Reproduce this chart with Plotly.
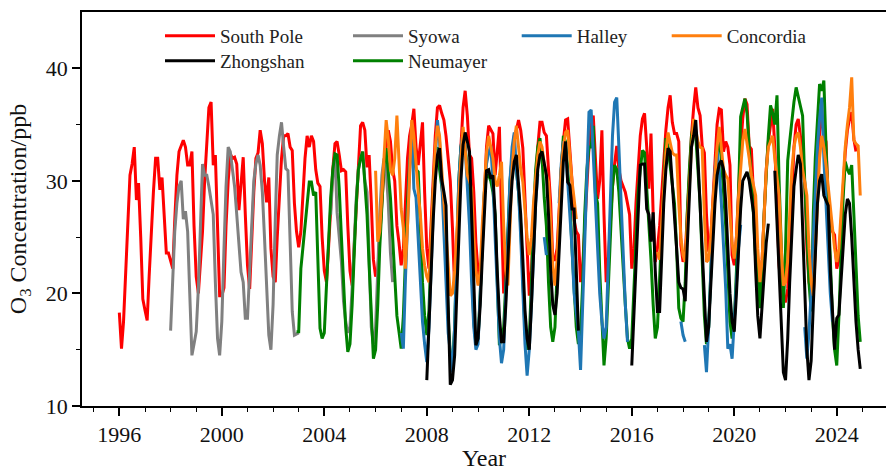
import plotly.graph_objects as go
import pandas as pd

N = None

# ---------------- data (monthly means, ppb) ----------------
south_pole_start = "1996-01-01"
south_pole = [
    18.3, 15.1, 17.5, 22.0, 26.5, 30.5, 31.5, 33.0, 28.3, 29.8, 25.0, 19.5,  # 1996
    18.5, 17.6, 21.5, 26.0, 29.0, 32.0, 32.0, 29.2, 30.3, 27.0, 23.6, 23.6,  # 1997
    23.0, 22.2, 26.5, 30.5, 32.6, 33.2, 33.6, 33.0, 31.4, 31.4, 32.6, 26.0,  # 1998
    21.5, 20.0, 22.5, 25.5, 30.0, 34.0, 36.5, 37.0, 31.4, 32.3, 25.0, 19.8,  # 1999
    19.8, 20.5, 26.0, 30.0, 32.4, 32.0, 32.1, 31.5, 27.4, 29.5, 32.1, 27.0,  # 2000
    22.5, 20.4, 25.0, 29.0, 32.0, 32.5, 34.5, 33.3, 30.0, 28.1, 30.3, 24.0,  # 2001
    21.5, 21.0, 25.0, 29.0, 32.0, 34.0, 34.0, 34.2, 33.0, 32.7, 28.0, 25.5,  # 2002
    24.1, 25.5, 29.0, 32.0, 34.0, 33.0, 34.0, 33.5, 31.0, 29.8, 29.5, 25.0,  # 2003
    22.0, 21.0, 24.0, 28.0, 31.0, 33.3, 33.5, 32.3, 30.9, 31.0, 30.8, 26.0,  # 2004
    22.0, 20.7, 24.0, 28.0, 31.0, 34.9, 35.2, 34.5, 31.2, 32.3, 28.0, 23.0,  # 2005
    21.5, 22.0, 25.0, 28.5, 31.0, 33.0, 34.5, 33.5, 31.0, 30.0, 26.0, 24.5,  # 2006
    22.5, 24.0, 28.0, 32.0, 34.0, 35.0, 36.4, 33.0, 31.4, 33.0, 35.2, 29.0,  # 2007
    24.0, 22.2, 26.0, 30.0, 34.0, 36.5, 36.7, 36.0, 35.4, 34.0, 32.1, 30.0,  # 2008
    25.8, 20.5, 22.5, 27.0, 33.0, 36.5, 38.0, 35.8, 32.3, 32.0, 29.0, 24.5,  # 2009
    22.0, 20.7, 24.0, 29.0, 33.0, 34.9, 34.5, 34.2, 30.5, 33.0, 34.8, 27.0,  # 2010
    20.0, 21.5, 25.0, 29.0, 32.0, 34.0, 34.5, 35.4, 34.5, 32.9, 29.0, 24.0,  # 2011
    19.8, 22.0, 26.0, 30.0, 33.0, 35.2, 35.2, 34.3, 34.0, 31.0, 28.0, 23.0,  # 2012
    23.0, 24.0, 27.5, 31.0, 33.5, 35.4, 35.5, 33.0, 30.0, 26.5, 25.5, 25.2,  # 2013
    21.0, 22.5, 26.0, 30.0, 33.0, 35.0, 35.8, 32.0, 28.4, 30.0, 34.5, 27.0,  # 2014
    21.0, 23.0, 26.0, 29.5, 31.5, 33.1, 31.0, 30.0, 29.5, 29.0, 28.0, 27.0,  # 2015
    22.2, 24.0, 28.0, 31.0, 34.0, 35.5, 36.0, 33.0, 29.3, 34.2, 27.0, 22.8,  # 2016
    24.0, 26.0, 29.0, 32.0, 34.5, 36.5, 37.6, 35.2, 34.2, 34.2, 33.5, 24.3,  # 2017
    22.8, 23.5, 27.0, 31.0, 34.0, 36.5, 38.3, 36.5, 35.8, 33.1, 32.5, 27.0,  # 2018
    23.7, 25.0, 28.5, 32.0, 35.0, 36.4, 36.3, 32.6, 33.5, 33.0, 31.4, 23.4,  # 2019
    22.5, 25.0, 29.0, 33.0, 35.5, 37.3, 36.8, 33.1, 32.8, 28.0, 24.5, 22.0,  # 2020
    20.4, 23.0, 27.0, 31.0, 33.5, 35.0, 36.4, 33.0, 27.0, 22.5, 20.4, 19.3,  # 2021
    19.3, 20.4, 24.0, 29.0, 33.0, 35.0, 35.5, 34.0, 32.6, 29.9, 24.0, 21.0,  # 2022
    20.0, 19.8, 25.0, 30.0, 34.2, 36.3, 34.0, 33.5, 28.0, 26.5, 25.5, 25.2,  # 2023
    22.2, 23.0, 26.0, 29.5, 32.5, 34.5, 35.5, 36.1, 33.7, 32.6,              # 2024
]

syowa_start = "1998-01-01"
syowa = [
    16.7, 22.1, 25.5, 28.0, 29.5, 30.0, 26.6, 27.3, 25.5, 20.0, 14.5, 15.5,  # 1998
    16.6, 20.5, 26.0, 31.5, 30.5, 30.5, 29.5, 28.0, 27.0, 21.0, 16.0, 14.5,  # 1999
    17.5, 24.0, 29.5, 33.0, 32.6, 31.0, 29.5, 27.0, 24.5, 21.9, 21.0, 17.8,  # 2000
    17.8, 22.0, 27.0, 30.0, 31.5, 32.3, 31.4, 29.0, 24.9, 20.5, 16.3, 15.0,  # 2001
    19.0, 26.5, 32.3, 34.0, 35.2, 33.0, 31.1, 30.9, 25.0, 18.4, 16.3, 16.4,  # 2002
    16.5, N, N, N, N, N, N, N, N, N, N, N,                                   # 2003
    N, N, N, 27.0, 30.5, 32.3, 27.2, 25.0, 22.8, 19.3, 17.5, 16.5,          # 2004
    17.0, 20.5, 25.0, 28.5, 31.0, 32.0, 32.6, 30.0, 29.0, 22.0, 17.0, 15.5,  # 2005
    17.0, 22.0, 27.0, 30.5, 32.0, 31.0, 28.0, 23.6, 21.0,                    # 2006
]

neumayer_start = "2002-12-01"
neumayer = [
    16.6,                                                                    # 2002
    16.6, 22.2, 24.0, 25.8, 28.0, 29.9, 29.9, 28.7, 29.0, 23.0, 16.9, 16.0,  # 2003
    16.5, 20.7, 25.0, 28.5, 31.0, 32.4, 32.3, 29.3, 25.0, 21.0, 17.0, 14.8,  # 2004
    15.5, 19.0, 23.5, 28.0, 31.0, 32.0, 32.6, 30.0, 27.0, 22.5, 17.5, 14.2,  # 2005
    15.0, 19.0, 24.0, 28.5, 31.5, 32.9, 31.0, 28.5, 25.0, 21.5, 18.0, 16.6,  # 2006
    15.1, 18.0, 23.0, 28.0, 31.5, 33.0, 32.0, 31.0, 30.8, 26.0, 21.0, 18.0,  # 2007
    16.3, 18.5, 24.0, 29.0, 32.0, 33.0, 31.0, 29.5, 28.0, 24.0, 18.0, 14.5,  # 2008
    13.5, 17.0, 24.0, 30.0, 33.0, 34.0, 33.0, 31.0, 28.0, 23.0, 17.5, 15.5,  # 2009
    16.0, 20.0, 25.0, 29.0, 30.5, 30.5, 30.0, 29.0, 27.0, 22.0, 15.4, 16.0,  # 2010
    17.0, 21.0, 26.0, 30.0, 32.0, 32.0, 31.0, 29.0, 26.0, 21.0, 16.5, 15.0,  # 2011
    16.0, 21.0, 27.0, 31.0, 33.0, 33.8, 32.0, 28.5, 26.0, 21.0, 17.0, 15.7,  # 2012
    17.0, 22.0, 27.0, 31.0, 34.0, 33.5, 31.0, 28.5, 24.0, 20.0, 17.0, 15.5,  # 2013
    16.5, 21.0, 27.0, 31.0, 33.0, 33.0, 34.9, 28.9, 28.0, 22.0, 17.0, 13.6,  # 2014
    16.0, 21.0, 26.0, 29.5, 31.4, 31.0, 29.0, 25.2, 22.0, 19.0, 16.0, 15.1,  # 2015
    16.0, 20.0, 25.0, 29.0, 31.0, 32.7, 32.5, 29.3, 27.0, 23.0, 19.0, 16.0,  # 2016
    17.0, 21.0, 26.0, 30.0, 33.8, 33.0, 31.5, 30.0, 28.0, 24.0, 18.7, 17.8,  # 2017
    17.5, 21.0, 27.0, 31.0, 34.0, 35.0, 34.0, 31.0, 28.0, 23.0, 18.0, 15.5,  # 2018
    17.0, 22.0, 27.0, 30.0, 32.5, 33.5, 32.0, 29.0, 26.0, 22.0, 17.5, 16.0,  # 2019
    17.5, 22.0, 30.0, 35.7, 36.5, 37.3, 36.0, 33.0, 30.0, 27.0, 23.0, 22.2,  # 2020
    18.7, 22.0, 27.0, 31.0, 34.0, 36.7, 36.0, 35.0, 37.6, 30.0, 24.0, 18.7,  # 2021
    24.0, 31.8, 33.5, 35.5, 37.0, 38.3, 37.5, 36.5, 35.8, 30.0, 24.5, 21.0,  # 2022
    18.4, 27.2, 32.0, 35.5, 38.6, 38.0, 38.9, 33.0, 28.0, 23.0, 18.0, 15.0,  # 2023
    13.6, 18.0, 24.0, 28.5, 31.7, 31.0, 30.6, 31.4, 27.0, 22.0, 18.0, 15.7,  # 2024
]

halley_start = "2007-01-01"
halley = [
    16.5, 15.1, 21.0, 27.0, 31.0, 34.9, 29.3, 28.5, 25.0, 20.4, 17.5, 15.5,  # 2007
    13.9, 17.0, 22.0, 28.0, 32.0, 35.4, 33.5, 30.0, 26.0, 21.0, 16.5, 14.5,  # 2008
    13.0, 17.0, 24.0, 30.0, 33.0, 34.3, 33.0, 29.3, 26.0, 21.0, 17.0, 15.0,  # 2009
    15.5, 20.0, 25.0, 29.0, 31.5, 32.5, 33.1, 30.0, 25.0, 20.0, 16.0, 13.8,  # 2010
    15.0, 20.0, 25.0, 30.0, 33.0, 34.3, 31.0, 29.0, 25.0, 20.0, 15.5, 12.7,  # 2011
    15.0, 19.0, 24.0, 28.0, 30.6, N, N, 25.0, 23.4, N, N, N,                 # 2012
    N, N, 28.0, 31.5, 33.5, 33.0, 30.0, 27.0, 24.0, 20.0, 18.0, 16.6,        # 2013
    13.2, 19.0, 26.0, 31.0, 36.1, 36.3, 32.0, 28.0, 24.0, 20.0, 17.5, 16.0,  # 2014
    17.0, 23.0, 30.0, 34.0, 37.0, 37.4, 33.0, 28.0, 23.0, 19.0, 15.7, N,     # 2015
    N, N, N, N, N, N, N, N, N, N, N, N,                                      # 2016
    N, N, N, N, N, N, N, N, N, N, N, 17.5,                                   # 2017
    16.3, 15.7, N, N, N, N, N, N, N, N, 15.4, 13.0,                          # 2018
    17.0, 22.0, 27.0, 31.0, 32.7, 31.0, 28.0, 24.0, 20.4, 15.1, 15.5, 14.2,  # 2019
    17.5, 21.0, 24.0, 26.1, N, N, N, N, N, N, N, N,                          # 2020
    N, N, N, N, N, N, N, N, N, N, N, N,                                      # 2021
    N, N, N, N, N, N, N, N, N, 17.0, 14.2, 16.5,                             # 2022
    20.0, 25.0, 29.0, 33.0, 35.5, 37.4, 32.0, 28.0, 24.0, 20.0, 17.5,        # 2023
]

concordia_start = "2006-01-01"
concordia = [
    30.9, 24.6, 25.5, 29.0, 32.5, 35.4, 33.7, 31.0, 30.5, 32.0, 35.8, 31.0,  # 2006
    27.5, 25.8, 22.2, 26.0, 31.0, 35.4, 34.0, 31.0, 29.0, 27.0, 24.0, 22.5,  # 2007
    21.5, 21.0, 25.0, 30.0, 33.0, 34.9, 34.0, 31.0, 28.0, 25.0, 22.0, 19.8,  # 2008
    20.0, 22.0, 25.0, 29.0, 32.0, 34.8, 32.5, 30.5, 30.0, 29.3, 25.0, 22.0,  # 2009
    20.7, 22.0, 26.0, 30.0, 32.5, 34.0, 33.0, 32.0, 30.0, 29.5, 30.5, 31.7,  # 2010
    26.0, 22.0, 20.7, 26.0, 31.0, 33.5, 34.9, 33.0, 31.0, 29.9, 27.0, 25.0,  # 2011
    23.4, 25.0, 28.0, 30.0, 32.3, 33.5, 33.0, 31.5, 30.5, 29.9, 25.5, 22.5,  # 2012
    20.7, 23.0, 27.0, 31.0, 33.0, 34.3, 34.5, 32.0, 30.0, 28.4, 26.6, N,     # 2013
    N, N, N, N, N, N, N, N, N, N, N, N,                                      # 2014
    N, N, N, N, N, N, N, N, N, N, N, N,                                      # 2015
    N, N, N, N, N, N, N, N, N, N, N, N,                                      # 2016
    23.7, 23.0, 26.0, 29.5, 32.5, 34.3, 33.5, 32.5, 32.3, 32.3, 28.0, 25.0,  # 2017
    23.4, 22.8, 26.0, 30.0, 33.0, 35.5, 34.5, 33.5, 33.0, 32.9, 27.0, 22.8,  # 2018
    23.0, 25.0, 28.0, 31.0, 33.0, 34.8, 33.0, 31.0, 30.5, 30.2, 27.0, 24.5,  # 2019
    23.1, 25.0, 28.5, 31.5, 33.5, 34.6, 33.5, 32.0, 30.5, 29.5, 28.7, 24.0,  # 2020
    21.0, 23.0, 27.0, 31.0, 33.0, 33.5, 34.0, 32.0, 30.0, 28.7, 24.0, 20.7,  # 2021
    21.0, 23.0, 27.0, 31.0, 33.0, 34.0, 34.3, 33.0, 31.0, 30.0, 28.7, 24.0,  # 2022
    21.0, 19.8, 24.0, 29.0, 32.0, 34.0, 33.0, 31.4, 29.5, 27.5, 25.5, 24.0,  # 2023
    22.8, 24.0, 27.0, 30.5, 33.0, 35.0, 36.5, 39.2, 33.6, 33.3, 33.1, 28.7,  # 2024
]

zhongshan_start = "2008-01-01"
zhongshan = [
    12.3, 17.5, 22.0, 26.5, 30.0, 32.3, 32.9, 30.1, 29.0, 27.8, 19.0, 11.9,  # 2008
    12.3, 14.5, 19.5, 25.0, 30.0, 33.2, 34.3, 33.5, 32.6, 27.0, 21.0, 15.4,  # 2009
    16.0, 19.0, 23.0, 27.0, 30.9, 31.0, 30.2, 30.5, 27.0, 22.0, 18.0, 15.7,  # 2010
    15.7, 19.0, 23.0, 27.0, 30.0, 31.7, 32.3, 30.0, 27.0, 23.0, 18.5, 16.0,  # 2011
    15.0, 19.0, 24.0, 28.0, 31.0, 32.3, 32.6, 31.5, 30.5, 27.0, 22.0, 19.0,  # 2012
    18.1, 20.0, 24.0, 28.0, 31.7, 33.5, 29.9, 29.6, 27.5, 27.5, 22.0, 16.7,  # 2013
    N, N, N, N, N, N, N, N, N, N, N, N,                                      # 2014
    N, N, N, N, N, N, N, N, N, N, N, N,                                      # 2015
    13.6, 18.0, 23.5, 28.0, 31.4, 31.5, 31.5, 27.5, 27.0, 24.6, 27.2, 22.0,  # 2016
    18.4, 18.4, 23.0, 28.0, 31.0, 32.9, 32.6, 30.0, 27.0, 24.0, 21.0, 20.5,  # 2017
    20.4, 19.3, 24.0, 29.0, 33.0, 34.0, 35.4, 32.0, 27.8, 23.0, 19.0, 15.7,  # 2018
    17.0, 21.0, 25.0, 28.0, 30.5, 31.5, 31.8, 31.0, 28.1, 24.0, 20.0, 17.5,  # 2019
    16.6, 20.0, 24.0, 27.5, 30.0, 30.5, 30.8, 30.0, 28.5, 27.2, 22.0, 18.0,  # 2020
    16.0, 19.0, 22.0, 24.5, 26.2, N, N, 30.9, 26.0, 21.0, 16.5, 13.0,        # 2021
    12.3, 16.0, 21.0, 26.0, 29.5, 31.0, 32.3, 31.5, 26.0, 20.0, 15.0, 12.3,  # 2022
    14.0, 19.0, 24.0, 28.0, 30.0, 30.6, 28.7, 28.3, 27.8, 22.0, 18.0, 15.0,  # 2023
    17.8, 18.1, 21.0, 24.5, 27.0, 28.4, 28.0, 25.0, 21.0, 17.5, 15.0, 13.3,  # 2024
]

year_ticks = [1996, 2000, 2004, 2008, 2012, 2016, 2020, 2024]

# ---------------- figure ----------------
# drawing order (bottom -> top) and legend slot (column, row)
stations = [
    ("South Pole", south_pole_start, south_pole, "#ff0000", "legend", 0, 0),
    ("Syowa", syowa_start, syowa, "#808080", "legend3", 1, 0),
    ("Neumayer", neumayer_start, neumayer, "#008000", "legend4", 1, 1),
    ("Halley", halley_start, halley, "#1f77b4", "legend5", 2, 0),
    ("Concordia", concordia_start, concordia, "#ff7f0e", "legend6", 3, 0),
    ("Zhongshan", zhongshan_start, zhongshan, "#000000", "legend2", 0, 1),
]

fig = go.Figure()
for name, start, vals, col, leg, c, r in stations:
    x = pd.date_range(start, periods=len(vals), freq="MS")
    fig.add_trace(go.Scatter(
        x=x, y=vals, mode="lines", name=name,
        line=dict(color=col, width=3),
        connectgaps=False, legend=leg,
    ))

FONT = "Liberation Serif"
PL, PW, PT, PH = 82, 804, 12, 394
col_px = [160, 348, 516.7, 666.7]
row_px = [36, 61]

legends = {}
for name, start, vals, col, leg, c, r in stations:
    legends[leg] = dict(
        orientation="v", xanchor="left", yanchor="middle",
        x=(col_px[c] - PL) / PW, y=(PT + PH - row_px[r]) / PH,
        bgcolor="rgba(0,0,0,0)", borderwidth=0,
        font=dict(family=FONT, size=19, color="#222"),
        itemwidth=50,
    )

fig.update_layout(
    width=886, height=471,
    margin=dict(l=82, r=0, t=12, b=65),
    paper_bgcolor="white", plot_bgcolor="white",
    font=dict(family=FONT, color="#111"),
    showlegend=True,
    **legends,
    xaxis=dict(
        type="date",
        range=["1994-07-18", "2025-12-03"],
        tickvals=[f"{y}-01-01" for y in year_ticks],
        ticktext=[str(y) for y in year_ticks],
        ticks="outside", ticklen=8, tickwidth=1.5, tickcolor="black",
        minor=dict(dtick="M12", tick0="1996-01-01", ticks="outside",
                   ticklen=4, tickwidth=1.2, tickcolor="black", showgrid=False),
        showline=True, linecolor="black", linewidth=1.5, mirror=True,
        showgrid=False, zeroline=False,
        tickfont=dict(family=FONT, size=22, color="#111"),
        title=dict(text="Year", font=dict(family=FONT, size=24, color="#111"),
                   standoff=8),
    ),
    yaxis=dict(
        range=[10, 45],
        tickvals=[10, 20, 30, 40],
        ticks="outside", ticklen=8, tickwidth=1.5, tickcolor="black",
        minor=dict(tickvals=[15, 25, 35], ticks="outside", ticklen=4,
                   tickwidth=1.2, tickcolor="black", showgrid=False),
        showline=True, linecolor="black", linewidth=1.5, mirror=False,
        showgrid=False, zeroline=False,
        tickfont=dict(family=FONT, size=22, color="#111"),
        title=dict(text="O<sub>3</sub> Concentration/ppb",
                   font=dict(family=FONT, size=24, color="#111"), standoff=12),
    ),
)

fig.write_html("out.html")
